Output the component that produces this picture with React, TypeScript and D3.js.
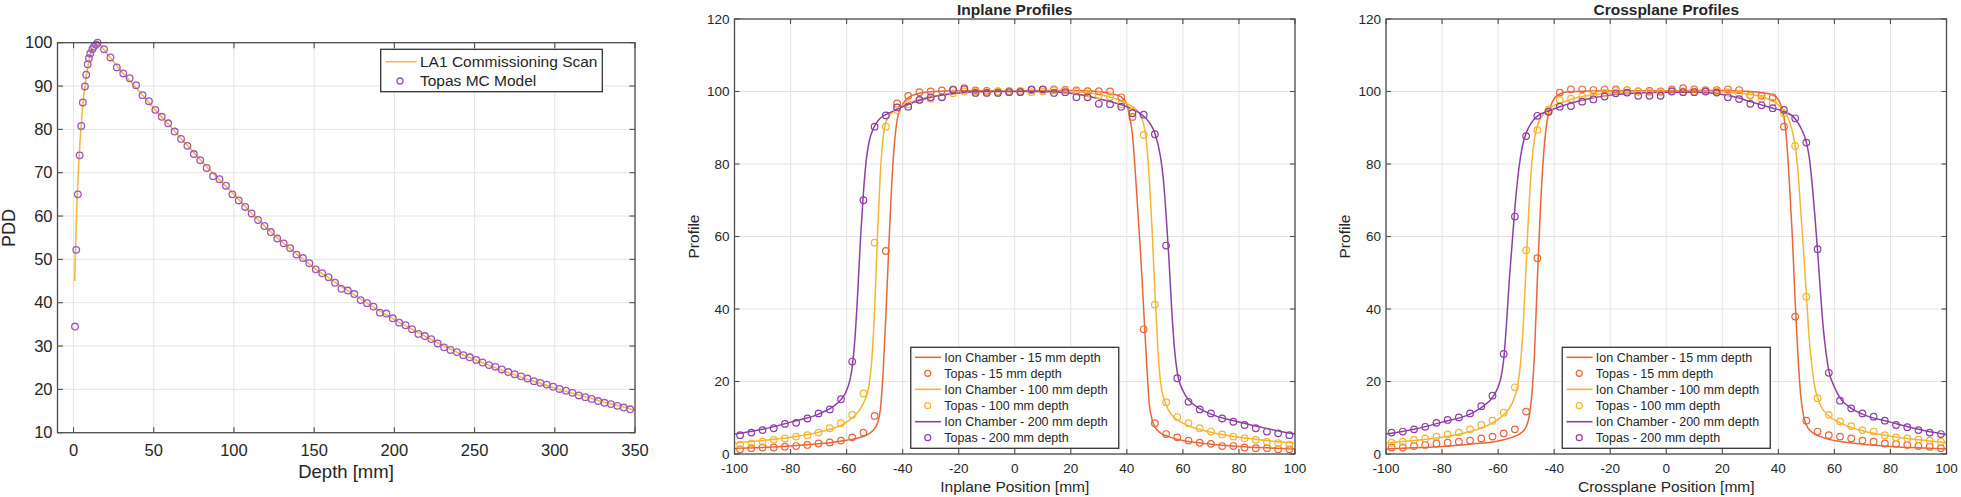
import React from "react";
import * as d3 from "d3";

const FONT = "'Liberation Sans', Arial, Helvetica, sans-serif";
const INK = "#262626";
const GRID = "#e4e4e4";
const AXIS = "#4d4d4d";

const ORANGE = "#ea6538";
const YELLOW = "#f4b530";
const PURPLE = "#8c3fa8";
const PDD_LINE = "#f5b940";
const PDD_DOT = "#9c57b8";

// ---- PDD panel ----
const pddXTicks = [0, 50, 100, 150, 200, 250, 300, 350];
const pddYTicks = [10, 20, 30, 40, 50, 60, 70, 80, 90, 100];

const scanDepth = [0.7, 1.2, 2, 3, 4, 5, 6, 7, 8, 9, 10, 11, 12, 13, 14, 15, 16, 18, 20, 25, 30, 40, 50, 60, 70, 80, 90, 100, 110, 120, 130, 140, 150, 160, 170, 180, 190, 200, 210, 220, 230, 240, 250, 260, 270, 280, 290, 300, 310, 320, 330, 340, 350];
const scanPdd = [45, 52, 62, 70, 77, 82, 86.5, 89.5, 92.5, 94.7, 96.5, 97.8, 98.8, 99.5, 99.9, 100, 99.7, 98.9, 97.9, 95.6, 93.3, 89.2, 84.9, 80.8, 76.7, 72.6, 68.7, 65.0, 61.0, 57.4, 54.0, 51.0, 48.0, 45.5, 43.0, 40.6, 38.3, 36.1, 34.1, 32.1, 30.2, 28.4, 26.9, 25.4, 24.0, 22.7, 21.5, 20.3, 19.2, 18.2, 17.1, 16.2, 15.2];

const topasDepth = [0.9, 1.7, 2.7, 3.8, 4.8, 5.8, 7.1, 7.9, 8.8, 9.6, 10.4, 11.7, 12.7, 14, 15, 19, 23, 27, 31, 35, 39, 43, 47, 51, 55, 59, 63, 67, 71, 75, 79, 83, 87, 91, 95, 99, 103, 107, 111, 115, 119, 123, 127, 131, 135, 139, 143, 147, 151, 155, 159, 163, 167, 171, 175, 179, 183, 187, 191, 195, 199, 203, 207, 211, 215, 219, 223, 227, 231, 235, 239, 243, 247, 251, 255, 259, 263, 267, 271, 275, 279, 283, 287, 291, 295, 299, 303, 307, 311, 315, 319, 323, 327, 331, 335, 339, 343, 347];
const topasPdd = [34.5, 52.2, 65.0, 74.0, 80.8, 86.2, 89.9, 92.6, 95.0, 96.4, 97.5, 98.5, 99.1, 99.6, 100, 98.5, 96.6, 94.3, 92.9, 91.8, 90.2, 87.9, 86.5, 84.5, 82.9, 81.4, 79.5, 77.8, 76.2, 74.3, 72.9, 71.1, 69.2, 68.5, 67.0, 65.0, 63.6, 62.1, 60.6, 59.1, 57.7, 56.3, 54.8, 53.7, 52.6, 51.1, 50.3, 49.1, 47.7, 46.8, 45.9, 44.6, 43.2, 42.8, 42.0, 40.6, 39.9, 39.1, 37.7, 37.5, 36.4, 35.4, 34.8, 33.9, 32.8, 32.3, 31.6, 30.6, 29.7, 29.1, 28.6, 27.9, 27.4, 26.8, 26.2, 25.6, 25.2, 24.6, 24.0, 23.5, 23.0, 22.5, 21.9, 21.5, 21.1, 20.6, 20.1, 19.7, 19.2, 18.6, 18.2, 17.8, 17.3, 16.9, 16.6, 16.2, 15.8, 15.4];

// ---- profile panels ----
const profXTicks = [-100, -80, -60, -40, -20, 0, 20, 40, 60, 80, 100];
const profYTicks = [0, 20, 40, 60, 80, 100, 120];
const legendNames = ["15 mm depth", "100 mm depth", "200 mm depth"];

const topasPos = [-98, -94, -90, -86, -82, -78, -74, -70, -66, -62, -58, -54, -50, -46, -42, -38, -34, -30, -26, -22, -18, -14, -10, -6, -2, 2, 6, 10, 14, 18, 22, 26, 30, 34, 38, 42, 46, 50, 54, 58, 62, 66, 70, 74, 78, 82, 86, 90, 94, 98];

const inTopas15 = [1.3, 1.6, 1.8, 1.8, 2.0, 2.2, 2.5, 2.9, 3.2, 3.7, 4.6, 5.9, 10.5, 56.0, 96.7, 98.8, 99.8, 100.0, 100.3, 100.6, 100.9, 100.3, 100.2, 100.0, 100.1, 100.0, 100.4, 100.5, 100.6, 100.5, 100.3, 100.1, 100.1, 100.0, 98.4, 93.0, 34.4, 8.5, 5.5, 4.6, 3.7, 3.1, 2.8, 2.2, 2.2, 1.8, 1.6, 1.6, 1.3, 1.3];
const inTopas100 = [2.6, 2.9, 3.4, 3.9, 4.3, 4.8, 5.2, 5.9, 7.1, 8.5, 10.8, 16.7, 58.3, 90.3, 94.9, 96.5, 97.7, 98.0, 98.5, 99.5, 100.0, 100.0, 99.8, 100.0, 100.0, 100.2, 99.8, 100.0, 100.3, 100.3, 100.0, 99.5, 99.0, 98.5, 96.5, 94.5, 88.0, 41.2, 14.3, 10.2, 8.5, 7.1, 6.2, 5.4, 4.8, 4.3, 3.9, 3.4, 3.0, 2.6];
const inTopas200 = [5.2, 5.9, 6.6, 7.1, 8.3, 8.6, 9.8, 11.2, 12.3, 15.1, 25.5, 70.0, 90.3, 93.4, 95.6, 95.8, 97.7, 98.4, 98.4, 100.4, 100.6, 99.6, 99.6, 99.6, 99.8, 99.8, 100.6, 100.6, 99.6, 99.8, 98.4, 98.4, 96.6, 96.5, 95.8, 94.0, 93.6, 88.2, 57.5, 20.9, 14.4, 12.3, 11.2, 9.8, 8.9, 8.0, 7.1, 6.2, 5.7, 5.2];

const crTopas15 = [1.8, 1.8, 2.2, 2.5, 2.9, 3.1, 3.4, 3.7, 4.3, 4.8, 5.7, 6.8, 11.7, 54.0, 94.5, 99.7, 100.6, 100.6, 100.4, 100.6, 100.6, 100.4, 100.0, 100.2, 100.0, 100.6, 100.9, 100.6, 100.4, 100.4, 100.6, 100.4, 99.0, 98.8, 98.4, 90.3, 37.9, 9.2, 6.2, 5.2, 4.8, 4.3, 3.7, 3.4, 2.9, 2.8, 2.5, 2.2, 2.0, 1.6];
const crTopas100 = [3.1, 3.4, 3.9, 4.3, 4.8, 5.4, 5.9, 6.8, 8.0, 9.2, 11.4, 18.4, 56.2, 89.4, 95.0, 97.7, 98.0, 98.6, 99.2, 99.6, 100.2, 100.4, 100.0, 99.8, 99.8, 100.2, 100.0, 100.0, 100.2, 100.0, 99.8, 99.4, 98.8, 98.0, 97.0, 94.0, 85.0, 43.4, 15.4, 10.8, 9.0, 7.7, 6.6, 6.2, 5.2, 4.6, 4.3, 4.0, 3.7, 3.4];
const crTopas200 = [5.9, 6.2, 6.8, 7.5, 8.6, 9.4, 10.1, 11.2, 13.2, 16.1, 27.6, 65.5, 87.7, 93.3, 94.4, 95.8, 96.0, 97.2, 97.8, 98.6, 99.5, 99.7, 98.8, 98.8, 98.8, 100.0, 99.8, 99.8, 100.0, 99.7, 98.4, 97.9, 96.6, 96.2, 95.4, 94.9, 92.6, 85.9, 56.5, 22.4, 14.7, 12.6, 11.2, 10.3, 9.2, 8.0, 7.4, 6.6, 5.9, 5.5];

// ion chamber scans, [position mm, profile]
const inChamber15: [number, number][] = [[-100, 1.5], [-90, 1.8], [-80, 2.2], [-70, 2.8], [-60, 3.8], [-55, 4.6], [-52, 5.6], [-50, 7], [-49, 8.5], [-48, 12], [-47, 22], [-46, 38], [-45, 56], [-44, 73], [-43, 85], [-42, 92], [-41, 95], [-40, 96.5], [-38, 98.3], [-35, 99.3], [-30, 99.9], [-20, 100.2], [-10, 100.2], [0, 100.1], [10, 100.3], [20, 100.3], [30, 100], [35, 99.3], [38, 98.5], [40, 96.5], [41, 93], [42, 88], [43, 78], [44, 66], [45, 54], [46, 40], [47, 26], [48, 14], [49, 9.5], [50, 7.5], [52, 5.8], [55, 4.8], [60, 3.7], [70, 2.7], [80, 2.1], [90, 1.7], [100, 1.4]];
const inChamber100: [number, number][] = [[-100, 3.0], [-90, 3.7], [-80, 4.6], [-70, 6.0], [-60, 8.8], [-56, 11.5], [-54, 14], [-52, 19], [-51, 26], [-50, 40], [-49, 60], [-48, 77], [-47, 87], [-46, 91.5], [-44, 94], [-42, 95.2], [-38, 96.8], [-34, 97.9], [-30, 98.6], [-20, 99.6], [-10, 100], [0, 100.1], [10, 100.1], [20, 100], [30, 99.2], [36, 98], [40, 96.6], [44, 94.5], [46, 91], [47, 86], [48, 76], [49, 62], [50, 45], [51, 30], [52, 20], [54, 13.5], [56, 10.8], [60, 8.5], [70, 6.0], [80, 4.6], [90, 3.7], [100, 3.0]];
const inChamber200: [number, number][] = [[-100, 5.5], [-90, 6.8], [-80, 8.8], [-70, 11], [-65, 13], [-62, 15], [-60, 17.5], [-58, 24], [-57, 32], [-56, 45], [-55, 60], [-54, 72], [-53, 81], [-52, 86], [-50, 90.5], [-48, 92.6], [-45, 94], [-40, 95.8], [-35, 97.3], [-30, 98.4], [-20, 99.6], [-10, 100], [0, 100], [10, 100], [20, 99.5], [30, 98], [35, 97], [40, 95.8], [45, 93.8], [48, 91.5], [50, 88.5], [52, 82], [53, 76], [54, 66], [55, 54], [56, 40], [57, 29], [58, 22.5], [60, 17.5], [62, 15], [66, 12.5], [70, 11], [80, 8.8], [90, 7], [100, 5.5]];

const crChamber15: [number, number][] = [[-100, 1.4], [-90, 1.7], [-80, 2.1], [-70, 2.7], [-60, 3.6], [-55, 4.6], [-52, 5.7], [-50, 7.5], [-49, 10], [-48, 16], [-47, 28], [-46, 48], [-45, 66], [-44, 80], [-43, 89], [-42, 94], [-41, 96.5], [-40, 98], [-38, 99.3], [-35, 99.9], [-20, 100.2], [0, 100.2], [20, 100.3], [30, 100], [35, 99.6], [38, 99], [40, 97.8], [41, 96], [42, 93], [43, 86], [44, 74], [45, 60], [46, 42], [47, 27], [48, 16], [49, 10.5], [50, 8], [52, 6], [55, 4.8], [60, 3.7], [70, 2.7], [80, 2.1], [90, 1.7], [100, 1.4]];
const crChamber100: [number, number][] = [[-100, 3.0], [-90, 3.7], [-80, 4.6], [-70, 6.2], [-62, 8.6], [-58, 10.8], [-55, 14], [-53, 19], [-52, 25], [-51, 36], [-50, 52], [-49, 68], [-48, 80], [-47, 87], [-46, 90.5], [-44, 93.5], [-42, 95.2], [-38, 96.8], [-34, 97.8], [-30, 98.6], [-20, 99.6], [-10, 100], [0, 100.1], [10, 100.1], [20, 99.9], [30, 99.2], [36, 98], [40, 96.3], [43, 93.5], [45, 89], [46, 85], [47, 78], [48, 67], [49, 56], [50, 44], [51, 32], [52, 24], [53, 18.5], [55, 13.5], [58, 10.5], [62, 8.6], [70, 6.4], [80, 4.9], [90, 3.9], [100, 3.1]];
const crChamber200: [number, number][] = [[-100, 5.5], [-90, 6.8], [-80, 8.8], [-70, 11], [-66, 12.8], [-62, 15.6], [-60, 18.5], [-59, 21], [-58, 26], [-57, 36], [-56, 48], [-55, 58], [-54, 68], [-53, 76], [-52, 82], [-51, 86], [-50, 88.5], [-48, 91.5], [-46, 93.2], [-42, 94.6], [-38, 95.8], [-34, 96.8], [-30, 97.6], [-20, 99], [-10, 99.6], [0, 99.8], [10, 99.8], [20, 99.2], [26, 98.2], [30, 97.2], [38, 95.4], [42, 94.5], [46, 92.5], [48, 90], [50, 86], [51, 82], [52, 75], [53, 66], [54, 56], [55, 45], [56, 35], [57, 28], [58, 23], [60, 18.5], [62, 15.5], [66, 12.6], [70, 11], [80, 8.8], [90, 6.8], [100, 5.3]];

const Axes = ({ x, y, xTicks, yTicks, fs, tickLen, xLabY, children }) => {
  const [L, R] = x.range();
  const [B, T] = y.range();
  return (
    <g>
      {xTicks.map((t) => (
        <line key={"gx" + t} x1={x(t)} x2={x(t)} y1={T} y2={B} stroke={GRID} strokeWidth={1} />
      ))}
      {yTicks.map((t) => (
        <line key={"gy" + t} x1={L} x2={R} y1={y(t)} y2={y(t)} stroke={GRID} strokeWidth={1} />
      ))}
      {children}
      <rect x={L} y={T} width={R - L} height={B - T} fill="none" stroke={AXIS} strokeWidth={1.3} />
      {xTicks.map((t) => (
        <g key={"tx" + t} stroke={AXIS} strokeWidth={1.1}>
          <line x1={x(t)} x2={x(t)} y1={B} y2={B - tickLen} />
          <line x1={x(t)} x2={x(t)} y1={T} y2={T + tickLen} />
        </g>
      ))}
      {yTicks.map((t) => (
        <g key={"ty" + t} stroke={AXIS} strokeWidth={1.1}>
          <line x1={L} x2={L + tickLen} y1={y(t)} y2={y(t)} />
          <line x1={R} x2={R - tickLen} y1={y(t)} y2={y(t)} />
        </g>
      ))}
      {xTicks.map((t) => (
        <text key={"lx" + t} x={x(t)} y={xLabY} dy="0.35em" textAnchor="middle" fontSize={fs} fill={INK}>
          {String(t)}
        </text>
      ))}
      {yTicks.map((t) => (
        <text key={"ly" + t} x={L - 5} y={y(t)} dy="0.35em" textAnchor="end" fontSize={fs} fill={INK}>
          {String(t)}
        </text>
      ))}
    </g>
  );
};

const PddPanel = () => {
  const x = d3.scaleLinear().domain([-10, 350]).range([57.5, 635]);
  const y = d3.scaleLinear().domain([10, 100]).range([432.7, 42.7]);
  const line = d3
    .line<number>()
    .x((d, i) => x(scanDepth[i]))
    .y((d) => y(d))
    .curve(d3.curveMonotoneX);
  return (
    <g>
      <Axes x={x} y={y} xTicks={pddXTicks} yTicks={pddYTicks} fs={16.5} tickLen={5.5} xLabY={450}>
        <path d={line(scanPdd) || ""} fill="none" stroke={PDD_LINE} strokeWidth={1.6} />
        {topasPdd.map((v, i) => (
          <circle key={i} cx={x(topasDepth[i])} cy={y(v)} r={3.3} fill="none" stroke={PDD_DOT} strokeWidth={1.3} />
        ))}
      </Axes>
      <text x={346} y={472} dy="0.35em" textAnchor="middle" fontSize={18.5} fill={INK}>
        Depth [mm]
      </text>
      <text transform="translate(9,228) rotate(-90)" dy="0.35em" textAnchor="middle" fontSize={18} fill={INK}>
        PDD
      </text>
      <rect x={380.7} y={49.3} width={221.6} height={42.4} fill="#fff" stroke="#333" strokeWidth={1.3} />
      <line x1={385.7} x2={416.7} y1={61.7} y2={61.7} stroke={PDD_LINE} strokeWidth={1.6} />
      <text x={420} y={61.7} dy="0.35em" fontSize={15.5} fill={INK}>
        LA1 Commissioning Scan
      </text>
      <circle cx={400} cy={81} r={3} fill="none" stroke={PDD_DOT} strokeWidth={1.3} />
      <text x={420} y={81} dy="0.35em" fontSize={15.5} fill={INK}>
        Topas MC Model
      </text>
    </g>
  );
};

const ProfilePanel = ({ left, title, xLabel, chambers, topas }) => {
  const x = d3.scaleLinear().domain([-100, 100]).range([left, left + 560.5]);
  const y = d3.scaleLinear().domain([0, 120]).range([454, 19]);
  const cx = left + 280.25;
  const colors = [ORANGE, YELLOW, PURPLE];
  const line = d3
    .line<[number, number]>()
    .x((d) => x(d[0]))
    .y((d) => y(d[1]))
    .curve(d3.curveMonotoneX);
  const lgL = cx - 104;
  const rowY = [357.3, 373.3, 389.3, 405.7, 421.7, 437.7];
  return (
    <g>
      <Axes x={x} y={y} xTicks={profXTicks} yTicks={profYTicks} fs={13.5} tickLen={5} xLabY={468}>
        {chambers.map((c, k) => (
          <path key={"c" + k} d={line(c) || ""} fill="none" stroke={colors[k]} strokeWidth={1.5} />
        ))}
        {topas.map((s, k) =>
          s.map((v, i) => (
            <circle key={k + "-" + i} cx={x(topasPos[i])} cy={y(v)} r={3.3} fill="none" stroke={colors[k]} strokeWidth={1.2} />
          ))
        )}
      </Axes>
      <text x={cx} y={10} dy="0.35em" textAnchor="middle" fontSize={15.5} fontWeight="bold" fill={INK}>
        {title}
      </text>
      <text x={cx} y={487} dy="0.35em" textAnchor="middle" fontSize={15.5} fill={INK}>
        {xLabel}
      </text>
      <text transform={`translate(${left - 41},236.5) rotate(-90)`} dy="0.35em" textAnchor="middle" fontSize={15.5} fill={INK}>
        Profile
      </text>
      <rect x={lgL} y={347.3} width={208} height={101} fill="#fff" stroke="#333" strokeWidth={1.3} />
      {legendNames.map((n, k) => (
        <g key={"lg" + k}>
          <line x1={lgL + 4.3} x2={lgL + 30.3} y1={rowY[2 * k]} y2={rowY[2 * k]} stroke={colors[k]} strokeWidth={1.6} />
          <text x={lgL + 33.6} y={rowY[2 * k]} dy="0.35em" fontSize={12.5} fill={INK}>
            {"Ion Chamber - " + n}
          </text>
          <circle cx={lgL + 17} cy={rowY[2 * k + 1]} r={3} fill="none" stroke={colors[k]} strokeWidth={1.2} />
          <text x={lgL + 33.6} y={rowY[2 * k + 1]} dy="0.35em" fontSize={12.5} fill={INK}>
            {"Topas - " + n}
          </text>
        </g>
      ))}
    </g>
  );
};

export default function App() {
  return (
    <svg
      width={1961}
      height={497}
      style={{ position: "absolute", left: 0, top: 0, background: "#fff" }}
      fontFamily={FONT}
    >
      <rect width={1961} height={497} fill="#fff" />
      <PddPanel />
      <ProfilePanel
        left={734.5}
        title="Inplane Profiles"
        xLabel="Inplane Position [mm]"
        chambers={[inChamber15, inChamber100, inChamber200]}
        topas={[inTopas15, inTopas100, inTopas200]}
      />
      <ProfilePanel
        left={1386}
        title="Crossplane Profiles"
        xLabel="Crossplane Position [mm]"
        chambers={[crChamber15, crChamber100, crChamber200]}
        topas={[crTopas15, crTopas100, crTopas200]}
      />
    </svg>
  );
}
